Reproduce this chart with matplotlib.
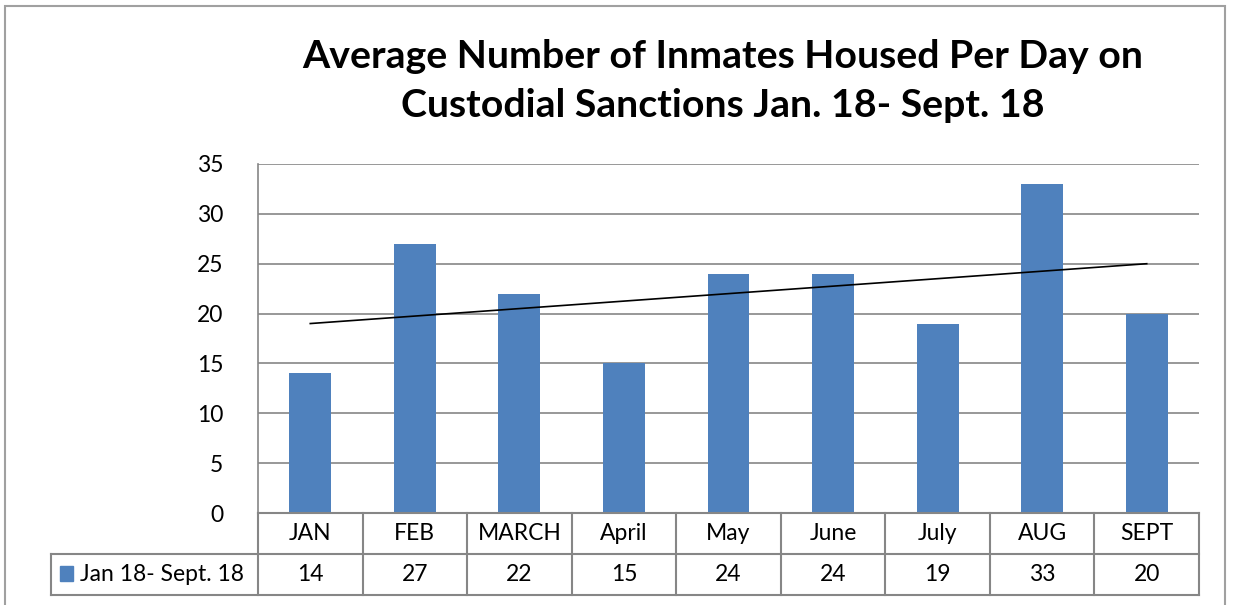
import numpy as np
import matplotlib
matplotlib.use("Agg")
import matplotlib.pyplot as plt
from matplotlib.patches import Rectangle
from matplotlib.lines import Line2D

categories = ["JAN", "FEB", "MARCH", "April", "May", "June", "July", "AUG", "SEPT"]
values = [14, 27, 22, 15, 24, 24, 19, 33, 20]
series_name = "Jan 18- Sept. 18"
yticks = [0, 5, 10, 15, 20, 25, 30, 35]
title = "Average Number of Inmates Housed Per Day on\nCustodial Sanctions Jan. 18- Sept. 18"

FONT = "Lato"
BAR = "#4F81BD"
GRID = "#868686"
FS = 16.5

W, H = 1236, 605
fig = plt.figure(figsize=(W / 100, H / 100), dpi=100)

L, R, T, B = 258, 1199, 164, 513
ax = fig.add_axes([L / W, 1 - B / H, (R - L) / W, (B - T) / H])

x = np.arange(len(categories))
ax.bar(x, values, width=0.4, color=BAR, zorder=3)
coef = np.polyfit(x, values, 1)
ax.plot([x[0], x[-1]], np.polyval(coef, [x[0], x[-1]]), color="black", lw=1.2, zorder=4)

ax.set_xlim(-0.5, len(categories) - 0.5)
ax.set_ylim(0, 35)
ax.set_yticks(yticks)
ax.set_yticklabels([str(v) for v in yticks], fontsize=FS, family=FONT)
ax.tick_params(axis="y", length=0, pad=25)
ax.set_xticks([])
ax.yaxis.grid(True, color=GRID, lw=1.2, zorder=0)
for s in ["top", "right", "bottom"]:
    ax.spines[s].set_visible(False)
ax.spines["left"].set_color(GRID)
ax.spines["left"].set_linewidth(1.2)

# data table (in pixel coordinates mapped to axes fraction)
def ax_y(py):
    return (B - py) / (B - T)

def ax_x(px):
    return (px - L) / (R - L)

row1_top, row1_bot, row2_bot = 513, 554, 595
leg_left = 51
lkw = dict(color=GRID, lw=1.5, transform=ax.transAxes, clip_on=False, zorder=5)
ax.add_line(Line2D([0, 1], [ax_y(row1_top)] * 2, **lkw))
ax.add_line(Line2D([ax_x(leg_left), 1], [ax_y(row1_bot)] * 2, **lkw))
ax.add_line(Line2D([ax_x(leg_left), 1], [ax_y(row2_bot)] * 2, **lkw))
ax.add_line(Line2D([ax_x(leg_left)] * 2, [ax_y(row1_bot), ax_y(row2_bot)], **lkw))
n = len(categories)
for i in range(n + 1):
    xf = i / n
    ax.add_line(Line2D([xf, xf], [ax_y(row1_top), ax_y(row2_bot)], **lkw))

for i, (c, v) in enumerate(zip(categories, values)):
    xc = (i + 0.5) / n
    ax.text(xc, ax_y((row1_top + row1_bot) / 2), c, transform=ax.transAxes,
            ha="center", va="center", fontsize=FS, family=FONT)
    ax.text(xc, ax_y((row1_bot + row2_bot) / 2), str(v), transform=ax.transAxes,
            ha="center", va="center", fontsize=FS, family=FONT)

# legend key
ax.add_patch(Rectangle((ax_x(60), ax_y(581)), ax_x(73) - ax_x(60), ax_y(566) - ax_y(581),
                       transform=ax.transAxes, clip_on=False, color=BAR, zorder=5))
ax.text(ax_x(80), ax_y((row1_bot + row2_bot) / 2), series_name, transform=ax.transAxes,
        ha="left", va="center", fontsize=FS, family=FONT)

# title
fig.text(723 / W, 1 - 81 / H, title, ha="center", va="center", fontsize=28.3,
         fontweight="bold", family=FONT, linespacing=1.45)

# outer chart border
fig.add_artist(Rectangle((5 / W, -0.05), (1225 - 5) / W, 1.05 - 6 / H,
                         transform=fig.transFigure, fill=False, ec="#A0A0A0", lw=1.5))

fig.savefig("out.png", dpi=100)
